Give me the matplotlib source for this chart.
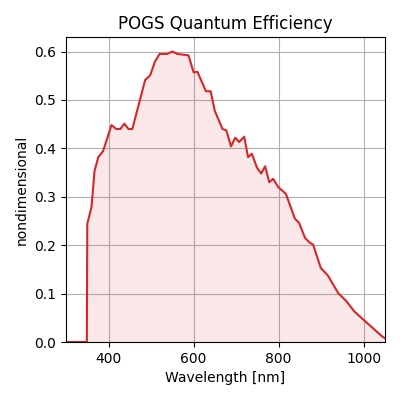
import matplotlib
matplotlib.use('Agg')
import matplotlib.pyplot as plt

# wavelength [nm] and quantum efficiency
wavelength = [300, 349, 350, 360, 367, 376, 387, 407, 418, 428, 437, 447, 456,
              486, 498, 509, 520, 538, 550, 562, 588, 600, 609, 629, 640, 650,
              668, 677, 688, 698, 707, 719, 728, 737, 749, 759, 768, 778, 787,
              799, 817, 838, 848, 862, 872, 881, 899, 916, 940, 958, 978, 1000,
              1044, 1050]
qe = [0.0, 0.0, 0.244, 0.279, 0.353, 0.382, 0.394, 0.448, 0.44, 0.44, 0.451,
      0.44, 0.44, 0.541, 0.551, 0.579, 0.595, 0.595, 0.600, 0.595, 0.592,
      0.557, 0.558, 0.518, 0.518, 0.477, 0.44, 0.437, 0.404, 0.422, 0.413,
      0.424, 0.382, 0.389, 0.36, 0.348, 0.363, 0.33, 0.337, 0.320, 0.306,
      0.255, 0.246, 0.215, 0.206, 0.201, 0.153, 0.137, 0.101, 0.0855, 0.063,
      0.0455, 0.011, 0.008]

fig, ax = plt.subplots(figsize=(4, 4), dpi=100)
ax.plot(wavelength, qe, color='tab:red')
ax.fill_between(wavelength, qe, color='tab:red', alpha=0.1, linewidth=0)
ax.set_xlim(300, 1050)
ax.set_ylim(0, 0.63)
ax.set_xticks([400, 600, 800, 1000])
ax.grid(True)
ax.set_axisbelow(True)
ax.set_title('POGS Quantum Efficiency')
ax.set_xlabel('Wavelength [nm]')
ax.set_ylabel('nondimensional')
fig.subplots_adjust(left=0.165, right=0.9625, bottom=0.145, top=0.9075)
fig.savefig('out.png')
